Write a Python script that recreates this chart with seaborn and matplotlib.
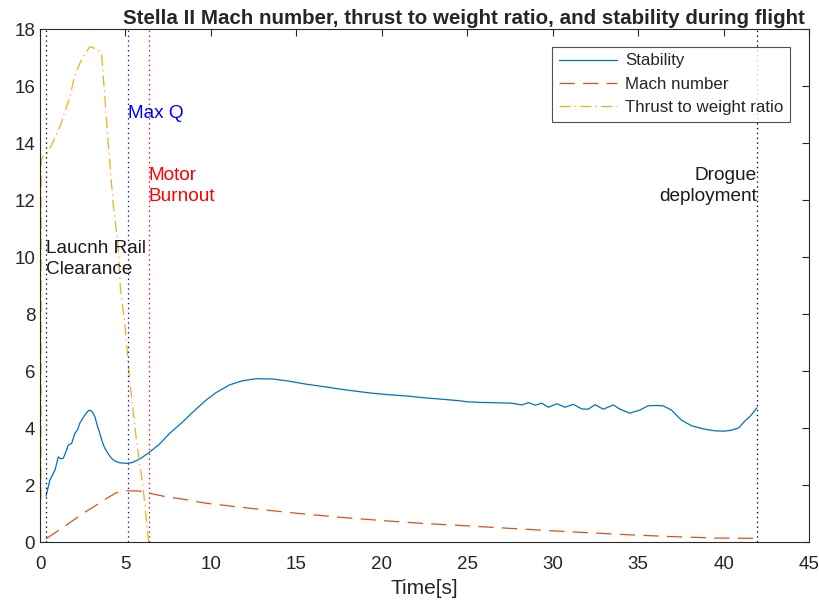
import matplotlib
matplotlib.use("Agg")
import matplotlib.pyplot as plt
import pandas as pd
import seaborn as sns

# values
stab_t = [0.35, 0.58, 0.88, 1.07, 1.2, 1.36, 1.5, 1.65, 1.85, 2.04, 2.2, 2.33, 2.5, 2.63, 2.8, 2.92,
          3.05, 3.21, 3.35, 3.5, 3.65, 3.79, 4.0, 4.18, 4.4, 4.67, 5.06, 5.4, 5.83, 6.32, 7.0,
          7.58, 8.36, 9.0, 9.72, 10.3, 11.08, 11.8, 12.64, 13.61, 14.5, 15.56, 16.5, 17.5, 18.5,
          19.45, 20.0, 20.6, 21.5, 22.5, 23.5, 24.5, 25.0, 25.67, 26.5, 27.6, 28.2, 28.59, 28.98,
          29.36, 29.75, 30.24, 30.73, 31.21, 31.7, 32.09, 32.48, 32.96, 33.55, 33.94, 34.52,
          35.1, 35.59, 36.0, 36.46, 36.95, 37.53, 38.12, 38.8, 39.5, 40.0, 40.45, 40.9, 41.2,
          41.6, 41.95]
stab_v = [1.62, 2.19, 2.54, 3.0, 2.93, 2.95, 3.15, 3.41, 3.47, 3.82, 3.95, 4.18, 4.35, 4.47, 4.6, 4.64,
          4.58, 4.41, 4.1, 3.82, 3.52, 3.30, 3.1, 2.95, 2.85, 2.79, 2.77, 2.8, 2.92, 3.12, 3.45,
          3.82, 4.23, 4.6, 4.99, 5.25, 5.52, 5.66, 5.74, 5.73, 5.66, 5.55, 5.47, 5.38, 5.3,
          5.23, 5.2, 5.17, 5.13, 5.07, 5.02, 4.97, 4.93, 4.91, 4.9, 4.88, 4.82, 4.90, 4.81,
          4.88, 4.74, 4.86, 4.74, 4.84, 4.68, 4.67, 4.83, 4.67, 4.82, 4.67, 4.53,
          4.64, 4.79, 4.80, 4.79, 4.64, 4.29, 4.09, 3.98, 3.91, 3.90, 3.93, 4.02, 4.23,
          4.45, 4.72]

mach_t = [0.35, 1.56, 2.53, 3.31, 3.89, 4.47, 5.06, 5.8, 6.42, 7.2, 8.5, 9.72, 12.5, 15.0, 17.5,
          20.3, 22.5, 24.9, 27.5, 29.8, 32.0, 34.6, 37.0, 39.5, 41.95]
mach_v = [0.12, 0.61, 1.02, 1.31, 1.54, 1.74, 1.81, 1.80, 1.72, 1.62, 1.50, 1.37, 1.18, 1.02, 0.88,
          0.75, 0.66, 0.58, 0.49, 0.41, 0.34, 0.26, 0.20, 0.15, 0.14]

twr_t = [0.06, 0.07, 0.16, 0.39, 0.68, 1.17, 1.75, 2.0, 2.33, 2.6, 2.92, 3.1, 3.31, 3.6, 3.79,
         3.99, 4.28, 4.57, 4.71, 4.96, 5.25, 5.64, 6.03, 6.35]
twr_v = [1.5, 13.4, 13.53, 13.65, 13.94, 14.58, 15.63, 16.3, 16.81, 17.1, 17.39, 17.35, 17.30, 17.16, 15.63,
         14.0, 11.89, 10.37, 8.85, 7.68, 5.69, 3.59, 1.95, 0.0]

event_t = [0.35, 5.13, 6.36, 41.95]
event_colors = ["k", "b", "r", "k"]

title = "Stella II Mach number, thrust to weight ratio, and stability during flight"

sns.set_style("white")
plt.rcParams["font.family"] = ["Liberation Sans", "DejaVu Sans"]
plt.rcParams["lines.scale_dashes"] = False

fig = plt.figure(figsize=(8.2, 6.09), dpi=100)
ax = fig.add_axes([0.0488, 0.1095, 0.9378, 0.8425])

stab_df = pd.DataFrame({"t": stab_t, "v": stab_v})
mach_df = pd.DataFrame({"t": mach_t, "v": mach_v})
twr_df = pd.DataFrame({"t": twr_t, "v": twr_v})

sns.lineplot(data=stab_df, x="t", y="v", ax=ax, color="#0072BD", linewidth=0.9,
             estimator=None, sort=False, label="Stability")
sns.lineplot(data=mach_df, x="t", y="v", ax=ax, color="#D95319", linewidth=0.9,
             estimator=None, sort=False, label="Mach number", dashes=False)
sns.lineplot(data=twr_df, x="t", y="v", ax=ax, color="#EDB120", linewidth=0.9,
             estimator=None, sort=False, label="Thrust to weight ratio", dashes=False)
ax.lines[1].set_dashes([11, 6])
ax.lines[2].set_dashes([8, 3, 1, 3])

for t, c in zip(event_t, event_colors):
    ax.axvline(t, color=c, linestyle=(0, (1, 2.5)), linewidth=0.9)

ax.text(0.35, 9.95, "Laucnh Rail\nClearance", fontsize=13.7, color="#1a1a1a",
        ha="left", va="center", linespacing=1.3)
ax.text(5.13, 15.05, "Max Q", fontsize=13.7, color="b", ha="left", va="center")
ax.text(6.36, 12.5, "Motor\nBurnout", fontsize=13.7, color="r", ha="left", va="center",
        linespacing=1.3)
ax.text(41.95, 12.5, "Drogue\ndeployment", fontsize=13.7, color="#1a1a1a", ha="right",
        va="center", linespacing=1.3)

ax.set_xlim(0, 45)
ax.set_ylim(0, 18)
ax.set_xticks(range(0, 46, 5))
ax.set_yticks(range(0, 19, 2))
ax.tick_params(direction="in", top=True, right=True, length=5, width=0.8,
               colors="#262626", labelsize=13.5)
ax.tick_params(axis="x", pad=10)
for s in ax.spines.values():
    s.set_color("#262626")
    s.set_linewidth(0.8)

ax.set_xlabel("Time[s]", fontsize=15, color="#262626", labelpad=4)
ax.set_ylabel("")
ax.set_title(title, fontsize=14.8, fontweight="bold", pad=4, x=0.551)

leg = ax.legend(loc="upper right", bbox_to_anchor=(0.9755, 0.966), fontsize=12.2,
                handlelength=3.4, frameon=True, fancybox=False, borderpad=0.4,
                labelspacing=0.5, handletextpad=0.5, borderaxespad=0)
leg.get_frame().set_edgecolor("#262626")
leg.get_frame().set_linewidth(0.8)

fig.savefig("out.png", dpi=100)
